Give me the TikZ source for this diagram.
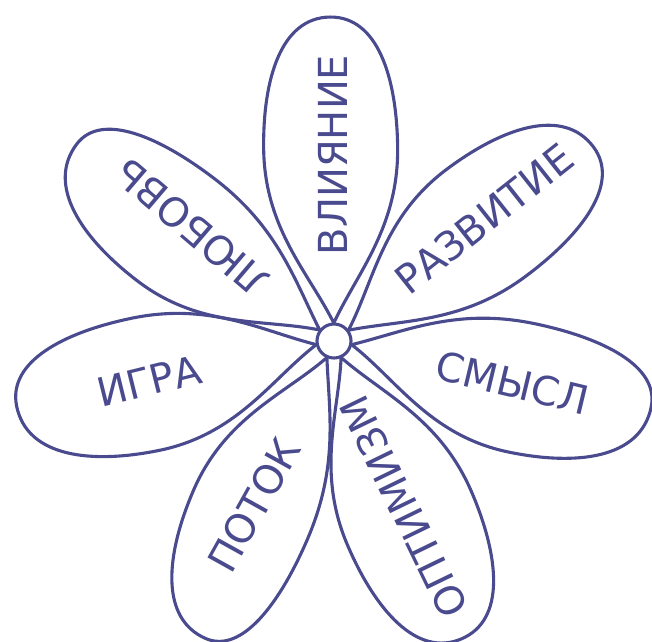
\documentclass[tikz,border=0pt]{standalone}
\usepackage{fontspec}
\usetikzlibrary{calc}
\newfontfamily\petalfont{DejaVu Sans}
\definecolor{ink}{HTML}{4A4A8E}
\tikzset{
  petalline/.style={draw=ink, line width=3.1pt, line join=round},
  lbl/.style={text=ink, inner sep=0pt, font=\petalfont\fontsize{40}{40}\selectfont},
  pics/petal/.style 2 args={code={
    \draw[petalline] (0,0) .. controls (50,24) and (95,#1) .. (175,#1)
      .. controls (245,#1) and (306,0.72*#1) .. (306,0)
      .. controls (306,-0.72*#2) and (245,-#2) .. (175,-#2)
      .. controls (95,-#2) and (50,-24) .. (0,0) -- cycle;
  }}
}
\begin{document}
\begin{tikzpicture}[x=1pt,y=1pt]
\useasboundingbox (0,0) rectangle (652,-641);
\coordinate (c) at (334,-341);
\pic[rotate=90.7]  at ($(c)+(90.7:18)$)  {petal={68}{66}};
\pic[rotate=36.8]  at ($(c)+(36.8:18)$)  {petal={70}{63}};
\pic[rotate=-11.8] at ($(c)+(-11.8:18)$) {petal={58}{73}};
\pic[rotate=-66.8] at ($(c)+(-66.8:18)$) {petal={67}{68}};
\pic[rotate=-113.3] at ($(c)+(-113.3:18)$) {petal={54}{70}};
\pic[rotate=191.6] at ($(c)+(191.6:18)$) {petal={72}{63}};
\pic[rotate=142.5] at ($(c)+(142.5:18)$) {petal={72}{56}};
\node[circle, draw=ink, line width=3.1pt, fill=white, minimum size=34pt, inner sep=0pt] (core) at (c) {};
\node[lbl, rotate=90]    (vliyanie) at (332.5,-155) {ВЛИЯНИЕ};
\node[lbl, rotate=38.4]  (razvitie) at (484,-219)   {РАЗВИТИЕ};
\node[lbl, rotate=-13.5] (smysl)    at (512.5,-383) {СМЫСЛ};
\node[lbl, rotate=115.9] (optimizm) at (404,-507)   {ОПТИМИЗМ};
\node[lbl, rotate=60.9]  (potok)    at (254,-505)   {ПОТОК};
\node[lbl, rotate=13.9]  (igra)     at (149,-381)   {ИГРА};
\node[lbl, rotate=139.5] (lyubov)   at (191.5,-227) {ЛЮБОВЬ};
\end{tikzpicture}
\end{document}
